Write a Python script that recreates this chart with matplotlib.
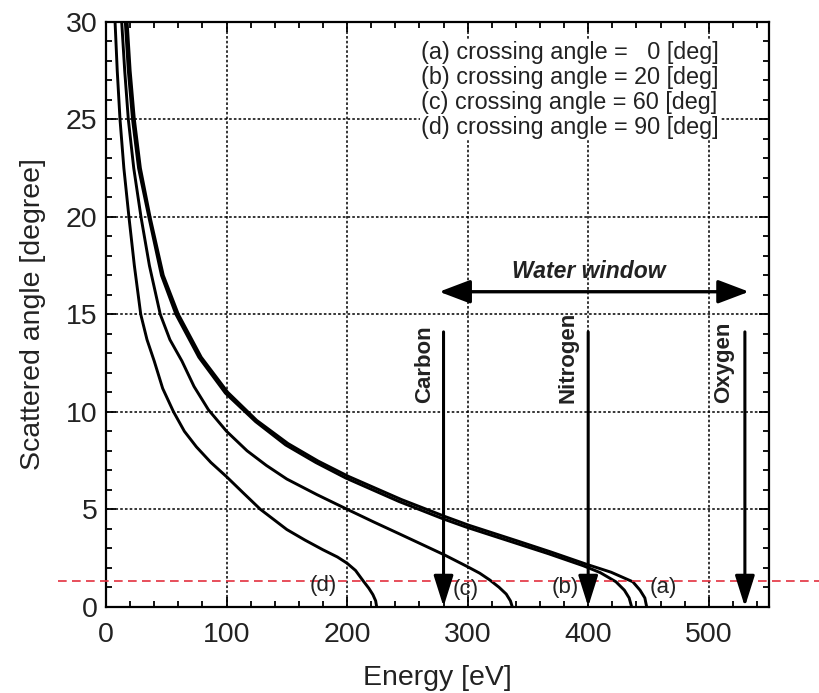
import matplotlib
matplotlib.use("Agg")
import matplotlib.pyplot as plt
from matplotlib.ticker import MultipleLocator

plt.rcParams['font.family'] = ['Liberation Sans', 'DejaVu Sans']

# curves: energy [eV] and scattered angle [degree]
energy_a = [17.5, 20, 23.5, 28.5, 36.5, 47.5, 60, 79, 101, 125, 151, 176, 201, 245, 282, 301,
            341, 369, 399, 419, 437, 443, 447, 448.5]
angle_a = [30, 27.5, 25, 22.5, 20, 17, 15, 12.8, 11.0, 9.56, 8.37, 7.47, 6.69, 5.5, 4.61, 4.18,
           3.38, 2.81, 2.17, 1.77, 1.28, 0.85, 0.45, 0]

energy_b = [16, 18.5, 22, 27, 35.5, 46, 58, 77, 99, 124, 149, 174, 199, 243, 280, 299,
            339, 367, 396, 410, 423, 430, 434, 436]
angle_b = [30, 27.5, 25, 22.5, 20, 17, 15, 12.8, 10.96, 9.5, 8.3, 7.4, 6.6, 5.4, 4.5, 4.08,
           3.28, 2.72, 2.1, 1.75, 1.28, 0.85, 0.45, 0]

energy_c = [13, 15.5, 18.5, 23, 29, 36, 45, 53, 63, 73, 85, 100, 117, 133, 150, 175, 200,
            222, 244, 262, 281, 300, 310, 318.4, 326, 332, 335.5, 337]
angle_c = [30, 27.5, 25, 22.5, 20, 17.5, 15, 13.7, 12.6, 11.3, 10.1, 9.0, 8.0, 7.25, 6.55, 5.75, 5.0,
           4.35, 3.72, 3.2, 2.65, 2.05, 1.72, 1.37, 1.0, 0.65, 0.3, 0]

energy_d = [7.5, 9.3, 11.6, 14.8, 19, 23.5, 28.8, 34, 40, 47, 56, 65, 75, 87, 100, 114, 128,
            150, 165, 180, 192, 200, 207, 213.4, 218, 221.4, 223.7, 224.5]
angle_d = [30, 27.5, 25, 22.5, 20, 17.5, 15, 13.7, 12.6, 11.2, 10, 9.0, 8.2, 7.4, 6.67, 5.83, 5.0,
           3.96, 3.42, 2.92, 2.55, 2.23, 1.86, 1.32, 0.95, 0.62, 0.3, 0]

curve_tags = ['(a)', '(b)', '(c)', '(d)']
tag_x = [462, 381, 298, 180]
tag_y = [0.98, 0.98, 0.86, 1.11]

edges = ['Carbon', 'Nitrogen', 'Oxygen']
edge_energy = [280, 400, 530]
edge_label_x = [264.5, 383.3, 512]

legend_lines = ['(a) crossing angle =   0 [deg]',
                '(b) crossing angle = 20 [deg]',
                '(c) crossing angle = 60 [deg]',
                '(d) crossing angle = 90 [deg]']

cutoff_angle = 1.32

fig = plt.figure(figsize=(8.2, 6.93), dpi=100)
ax = fig.add_axes([0.1293, 0.1245, 0.8085, 0.8438])

for xs, ys in [(energy_a, angle_a), (energy_b, angle_b), (energy_c, angle_c), (energy_d, angle_d)]:
    ax.plot(xs, ys, color='black', linewidth=2.1, zorder=3, solid_joinstyle='round')

ax.plot([-40, 600], [cutoff_angle, cutoff_angle], color='#e3303e', linewidth=1.2,
        linestyle=(0, (5.2, 3.2)), clip_on=False, zorder=4)

for tag, tx, ty in zip(curve_tags, tag_x, tag_y):
    ax.text(tx, ty, tag, fontsize=16, ha='center', va='center', color='#222222', zorder=5)

for name, e, lx in zip(edges, edge_energy, edge_label_x):
    ax.annotate('', xy=(e, 0), xytext=(e, 14.1),
                arrowprops=dict(arrowstyle='-|>,head_length=0.95,head_width=0.3',
                                mutation_scale=20, lw=2.2, color='black',
                                shrinkA=0, shrinkB=0), zorder=6)
    ax.text(lx, 10.45, name, rotation=90, fontsize=16, fontweight='bold',
            ha='center', va='bottom', color='#222222')

ax.annotate('', xy=(276.4, 16.16), xytext=(533.4, 16.16),
            arrowprops=dict(arrowstyle='<|-|>,head_length=0.95,head_width=0.36',
                            mutation_scale=20, lw=2.4, color='black',
                            shrinkA=0, shrinkB=0), zorder=6)
ax.text(400.5, 17.2, 'Water window', fontsize=16.5, fontweight='bold', style='italic',
        ha='center', va='center', color='#222222')

ax.text(261.7, 29.0, '\n'.join(legend_lines), fontsize=16.8, ha='left', va='top',
        color='#222222', linespacing=1.1,
        bbox=dict(facecolor='white', edgecolor='none', pad=1.0), zorder=5)

ax.set_xlim(0, 550)
ax.set_ylim(0, 30)
ax.xaxis.set_major_locator(MultipleLocator(100))
ax.xaxis.set_minor_locator(MultipleLocator(20))
ax.yaxis.set_major_locator(MultipleLocator(5))
ax.yaxis.set_minor_locator(MultipleLocator(1))

ax.grid(True, which='major', color='black', linestyle=(0, (1.7, 1.4)), linewidth=1.1)
ax.set_axisbelow(True)

ax.tick_params(which='both', direction='in', top=True, right=True, width=1.3,
               labelsize=20.5, labelcolor='#222222')
ax.tick_params(which='major', length=7)
ax.tick_params(which='minor', length=4.5)
ax.tick_params(axis='x', pad=11)
ax.tick_params(axis='y', pad=6)
for s in ax.spines.values():
    s.set_linewidth(1.6)

ax.set_xlabel('Energy [eV]', fontsize=20.5, labelpad=12, color='#222222')
ax.set_ylabel('Scattered angle [degree]', fontsize=20.5, labelpad=14, color='#222222')

fig.savefig('out.png', dpi=100)
